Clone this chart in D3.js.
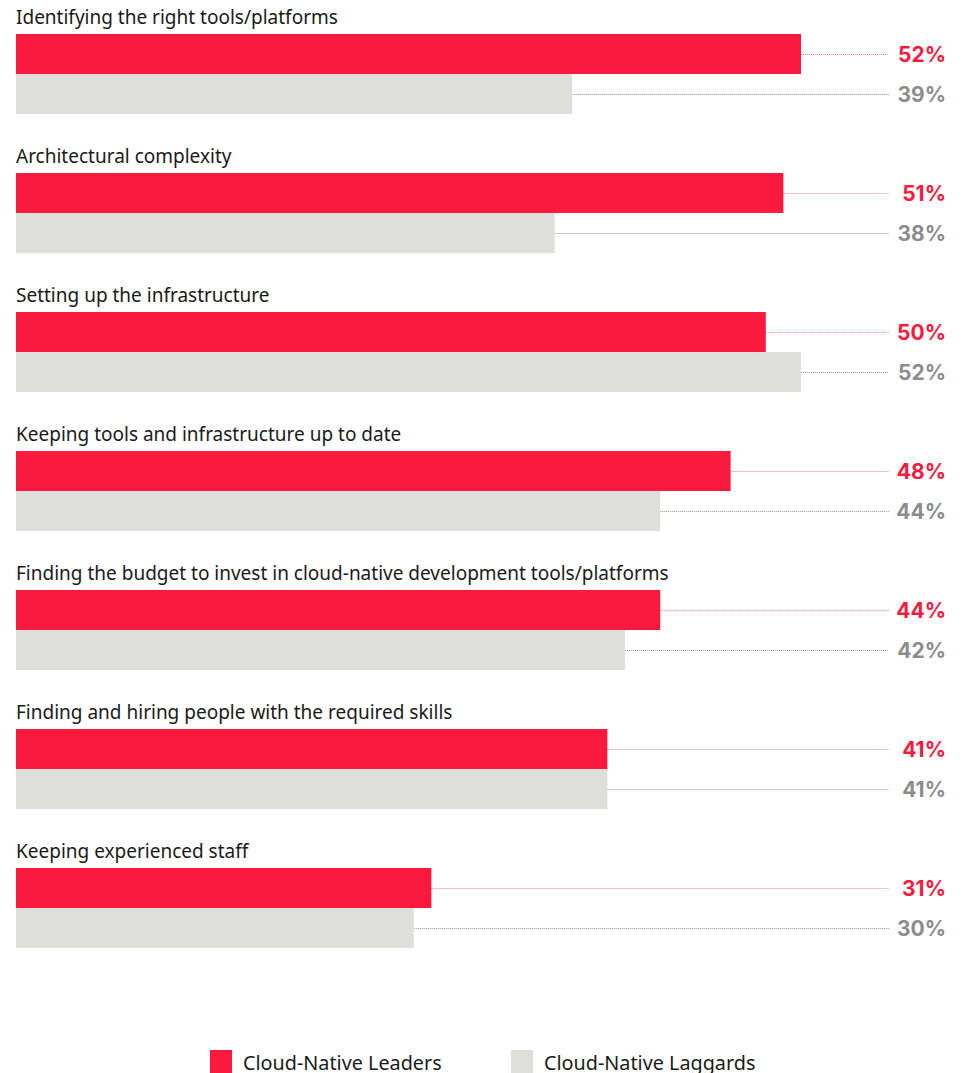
<!DOCTYPE html>
<html>
<head>
<meta charset="utf-8">
<script src="https://cdn.jsdelivr.net/npm/d3@7"></script>
<style>
  html, body { margin: 0; padding: 0; background: #ffffff; }
  svg { display: block; }
</style>
</head>
<body>
<svg id="chart" width="965" height="1073"></svg>
<script>
const categories = [
  "Identifying the right tools/platforms",
  "Architectural complexity",
  "Setting up the infrastructure",
  "Keeping tools and infrastructure up to date",
  "Finding the budget to invest in cloud-native development tools/platforms",
  "Finding and hiring people with the required skills",
  "Keeping experienced staff"
];
const leaders = [52, 51, 50, 48, 44, 41, 31];
const laggards = [39, 38, 52, 44, 42, 41, 30];
const seriesNames = ["Cloud-Native Leaders", "Cloud-Native Laggards"];
const colors = ["#fa1a3e", "#dededa"];
const labelColors = ["#fa1a3e", "#8c8c8c"];
const lineColors = ["#f47b8f", "#9a9a9a"];

const svg = d3.select("#chart");
const font = "'Noto Sans', sans-serif";
const valueFont = "Inter, 'Noto Sans', sans-serif";

const x = d3.scaleLinear().domain([7.4, 52]).range([16, 801]);
const y = d3.scaleBand().domain(categories).range([34, 34 + 139 * 7]).paddingInner(0).paddingOuter(0);
const barH = 40;

const groups = svg.selectAll("g.cat").data(categories).join("g")
  .attr("class", "cat")
  .attr("transform", d => `translate(0,${y(d)})`);

groups.append("text")
  .attr("x", 16).attr("y", -10)
  .attr("font-family", font).attr("font-size", 19).attr("fill", "#1a1a1a")
  .text(d => d);

const series = [leaders, laggards];
series.forEach((vals, si) => {
  groups.append("line")
    .attr("x1", (d, i) => x(vals[i]))
    .attr("x2", 889)
    .attr("y1", si * barH + barH / 2 + 0.5)
    .attr("y2", si * barH + barH / 2 + 0.5)
    .attr("stroke", lineColors[si])
    .attr("stroke-width", 1)
    .attr("stroke-dasharray", "1,1");
  groups.append("rect")
    .attr("x", x.range()[0])
    .attr("y", si * barH)
    .attr("width", (d, i) => x(vals[i]) - x.range()[0])
    .attr("height", barH)
    .attr("fill", colors[si]);
  groups.append("text")
    .attr("x", 946)
    .attr("y", si * barH + barH / 2 + 8)
    .attr("text-anchor", "end")
    .attr("font-family", valueFont).attr("font-weight", "bold").attr("font-size", 21)
    .attr("fill", labelColors[si])
    .text((d, i) => vals[i] + "%");
});

const legendX = [210, 511];
const legend = svg.selectAll("g.leg").data(seriesNames).join("g")
  .attr("class", "leg")
  .attr("transform", (d, i) => `translate(${legendX[i]},1050)`);
legend.append("rect").attr("width", 22).attr("height", 23).attr("fill", (d, i) => colors[i]);
legend.append("text").attr("x", 33).attr("y", 20)
  .attr("font-family", font).attr("font-size", 19.8).attr("fill", "#1a1a1a")
  .text(d => d);
</script>
</body>
</html>
